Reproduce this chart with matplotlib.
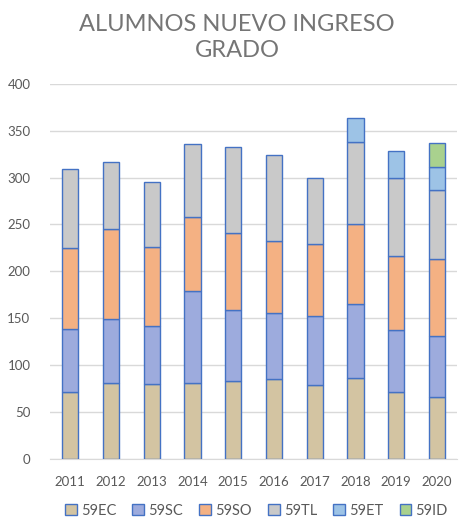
import matplotlib.pyplot as plt
import numpy as np

years = ['2011', '2012', '2013', '2014', '2015', '2016', '2017', '2018', '2019', '2020']
ec = [72, 81, 80, 81, 83, 85, 79, 86, 72, 66]
sc = [67, 68, 62, 98, 76, 71, 74, 79, 66, 65]
so = [86, 96, 84, 79, 82, 76, 76, 85, 78, 82]
tl = [84, 72, 69, 78, 92, 92, 70, 88, 83, 74]
et = [0, 0, 0, 0, 0, 0, 0, 25, 29, 24]
id_ = [0, 0, 0, 0, 0, 0, 0, 0, 0, 26]

series = [('59EC', ec, '#D3C4A2'), ('59SC', sc, '#9DABDD'), ('59SO', so, '#F4B183'),
          ('59TL', tl, '#C9C9C9'), ('59ET', et, '#9DC3E6'), ('59ID', id_, '#A9D18E')]

plt.rcParams['font.family'] = ['Lato', 'DejaVu Sans']
fig = plt.figure(figsize=(4.62, 5.23), dpi=100)
ax = fig.add_axes([0.108, 0.122, 0.882, 0.718])

x = np.arange(len(years))
bottom = np.zeros(len(years))
handles = []
for name, vals, col in series:
    vals = np.array(vals, dtype=float)
    mask = vals > 0
    ax.bar(x[mask], vals[mask], 0.4, bottom=bottom[mask], color=col,
           edgecolor='#4472C4', linewidth=1.0, zorder=3)
    handles.append(plt.Rectangle((0, 0), 1, 1, facecolor=col, edgecolor='#4472C4', linewidth=1.0))
    bottom += vals

ax.set_xlim(-0.5, 9.5)
ax.set_ylim(0, 400)
ax.set_yticks(range(0, 401, 50))
ax.set_xticks(x)
ax.set_xticklabels(years)
ax.grid(axis='y', color='#D9D9D9', linewidth=1, zorder=0)
for s in ['top', 'right', 'left']:
    ax.spines[s].set_visible(False)
ax.spines['bottom'].set_color('#D9D9D9')
ax.tick_params(length=0, colors='#595959', labelsize=9.5)
ax.tick_params(axis='y', pad=14)
ax.tick_params(axis='x', pad=12)

fig.text(0.513, 0.929, 'ALUMNOS NUEVO INGRESO\nGRADO', ha='center', va='center',
         fontsize=17, color='#757575', linespacing=1.3)

fig.legend(handles, [s[0] for s in series], loc='center', bbox_to_anchor=(0.555, 0.023),
           ncol=6, frameon=False, fontsize=10.5, handlelength=0.8, handleheight=0.8,
           handletextpad=0.3, columnspacing=1.1, labelcolor='#595959')

fig.savefig('out.png', dpi=100)
